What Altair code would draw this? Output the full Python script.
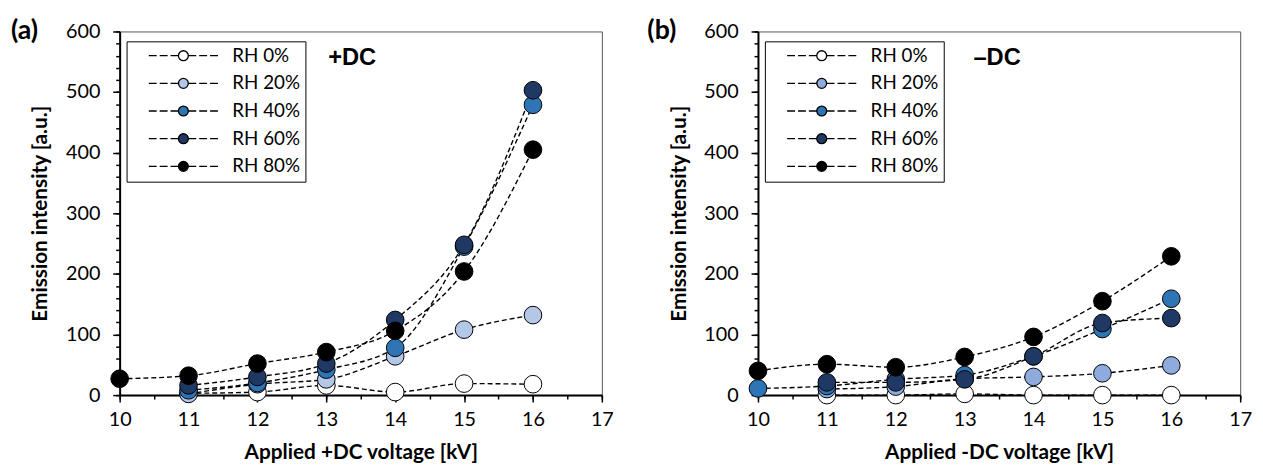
import altair as alt
import pandas as pd

voltages = [10, 11, 12, 13, 14, 15, 16]
rh_labels = ["RH 0%", "RH 20%", "RH 40%", "RH 60%", "RH 80%"]

# (a) +DC
pos_rh0 = [None, 3, 5, 16, 5, 19, 18]
pos_rh20 = [None, 2, 18, 26, 64, 108, 132]
pos_rh40 = [None, 8, 20, 42, 78, 245, 479]
pos_rh60 = [None, 16, 30, 52, 124, 248, 503]
pos_rh80 = [27, 32, 52, 71, 106, 204, 405]

# (b) -DC
neg_rh0 = [None, 0, 0, 2, 0, 0, 0]
neg_rh20 = [None, 10, 14, 27, 30, 36, 49]
neg_rh40 = [11, 15, 26, 33, 64, 109, 159]
neg_rh60 = [None, 21, 21, 26, 64, 119, 127]
neg_rh80 = [40, 51, 46, 63, 96, 155, 229]

colors_pos = ["#ffffff", "#b4c7e7", "#2e75b6", "#203864", "#000000"]
colors_neg = ["#ffffff", "#8faadc", "#2e75b6", "#203864", "#000000"]

y_major = [0, 100, 200, 300, 400, 500, 600]
y_minor = list(range(0, 601, 20))
x_major = [10, 11, 12, 13, 14, 15, 16, 17]
x_minor = [10 + 0.5 * i for i in range(15)]

LEGEND_SYMBOL = (
    "M-7,0H-5.4M-4.8,0H-3.2M-2.6,0H-1"
    "M1,0H2.6M3.2,0H4.8M5.4,0H7"
    "M1,0A1,1,0,1,1,-1,0A1,1,0,1,1,1,0Z"
)


def make_df(series):
    rows = []
    for lab, vals in zip(rh_labels, series):
        for v, val in zip(voltages, vals):
            if val is not None:
                rows.append({"V": v, "I": val, "RH": lab})
    return pd.DataFrame(rows)


def panel(df, colors, dc_text, tag, xtitle, tag_dx, dc_dx):
    xs = alt.Scale(domain=[10, 17], nice=False, zero=False)
    ys = alt.Scale(domain=[0, 600], nice=False)
    minor_x = alt.Axis(orient="bottom", values=x_minor, labels=False, domain=False,
                       title=None, tickSize=4, grid=False)
    minor_y = alt.Axis(orient="left", values=y_minor, labels=False, domain=False,
                       title=None, tickSize=4, grid=False)
    major_x = alt.Axis(orient="bottom", values=x_major, title=xtitle, tickSize=7,
                       labelPadding=8, titlePadding=12, grid=False, labelFlush=False)
    major_y = alt.Axis(orient="left", values=y_major, title="Emission intensity [a.u.]",
                       tickSize=7, labelPadding=13, titlePadding=15, grid=False,
                       labelFlush=False)

    lines = alt.Chart(df).mark_line(
        color="black", strokeWidth=1.4, strokeDash=[5, 3], interpolate="monotone"
    ).encode(
        x=alt.X("V:Q", scale=xs, axis=minor_x),
        y=alt.Y("I:Q", scale=ys, axis=minor_y),
        detail="RH:N",
    )
    points = alt.Chart(df).mark_circle(
        size=320, opacity=1, stroke="black", strokeWidth=1
    ).encode(
        x=alt.X("V:Q", scale=xs, axis=major_x),
        y=alt.Y("I:Q", scale=ys, axis=major_y),
        color=alt.Color(
            "RH:N",
            scale=alt.Scale(domain=rh_labels, range=colors),
            legend=alt.Legend(
                title=None, orient="none", legendX=7, legendY=10,
                symbolType=LEGEND_SYMBOL, symbolSize=100,
                symbolStrokeColor="black", symbolStrokeWidth=1.3,
                symbolOpacity=1, symbolOffset=43, labelOffset=40,
                labelFont="Lato", labelFontSize=19, labelColor="black",
                padding=5, rowPadding=8,
                strokeColor="black", fillColor="white",
            ),
        ),
    )
    tag_mark = alt.Chart(pd.DataFrame({"t": [tag]})).mark_text(
        font="Lato", fontWeight="bold", fontSize=27, align="left", baseline="middle",
        color="black"
    ).encode(text="t:N", x=alt.value(tag_dx), y=alt.value(0))
    dc_mark = alt.Chart(pd.DataFrame({"t": [dc_text]})).mark_text(
        font="Liberation Sans", fontWeight="bold", fontSize=24, align="left",
        baseline="middle", color="black"
    ).encode(text="t:N", x=alt.value(dc_dx), y=alt.value(27))

    return alt.layer(lines, points, tag_mark, dc_mark).resolve_axis(
        x="independent", y="independent"
    ).properties(width=488, height=368)


left = panel(make_df([pos_rh0, pos_rh20, pos_rh40, pos_rh60, pos_rh80]),
             colors_pos, "+DC", "(a)", "Applied +DC voltage [kV]", -110, 211)
right = panel(make_df([neg_rh0, neg_rh20, neg_rh40, neg_rh60, neg_rh80]),
              colors_neg, "\u2013DC", "(b)", "Applied -DC voltage [kV]", -112, 218)

chart = alt.hconcat(left, right, spacing=32).resolve_scale(
    color="independent", x="independent", y="independent"
).properties(
    padding={"left": 2, "top": 6, "right": 2, "bottom": 0}
).configure_axis(
    labelFont="Lato", labelFontSize=20, labelColor="black",
    domainColor="black", domainWidth=2, tickColor="black", tickWidth=1.5,
    titleFont="Lato", titleFontWeight="bold", titleFontSize=21, titleColor="black",
).configure_view(stroke="#555555", strokeWidth=1)

chart.save("out.html", embed_options={"renderer": "svg", "actions": False})
